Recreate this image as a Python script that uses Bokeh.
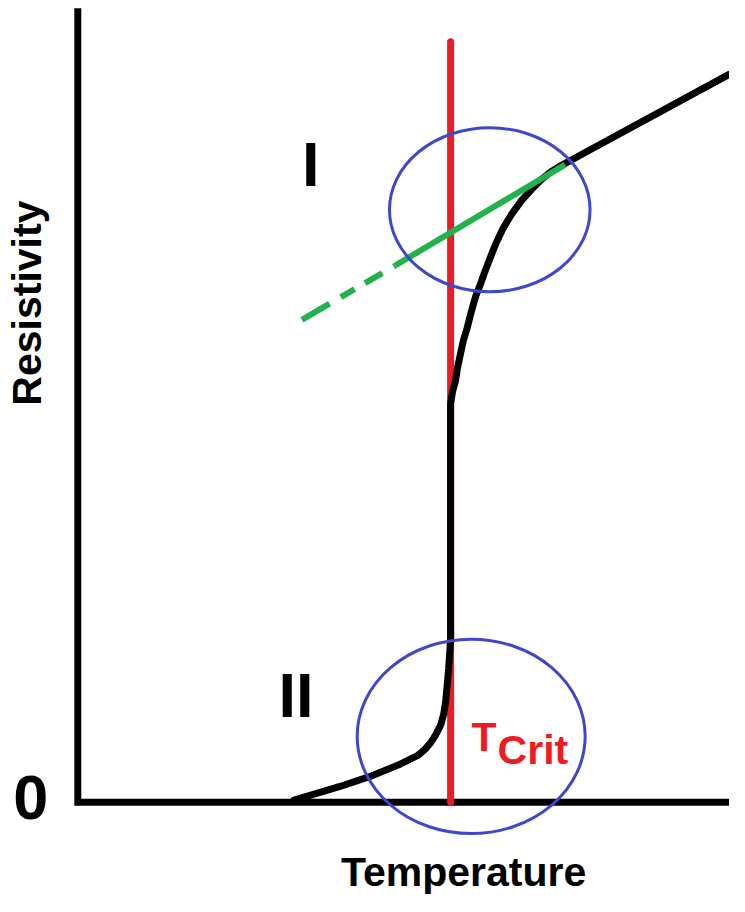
import numpy as np
from bokeh.plotting import figure
from bokeh.models import Range1d, ColumnDataSource
from bokeh.core.properties import value
from bokeh.embed import file_html
from bokeh.resources import INLINE

temperature = [221, 268, 298, 328, 348, 355, 361, 366, 371, 374, 376, 379, 381,
               381, 383, 386, 388, 391, 394, 398, 401, 404, 407, 411, 416, 421,
               427, 434, 443, 454, 464, 474, 484, 494, 518, 666]
resistivity = [2, 16, 26, 38, 48, 54, 61, 69, 79, 90, 103, 136, 166,
               406, 418, 429, 442, 456, 470, 483, 495, 506, 516, 526, 540, 553,
               568, 583, 598, 613, 624, 634, 642, 648, 661, 741]
t_crit = 381
t_crit_top = 774
extrap_T = [229, 324]
extrap_R = [491, 546]
fit_T = [324, 498]
fit_R = [546, 649]
region_T = [421, 402]
region_R = [603, 67]
region_w = [205, 233]
region_h = [167, 198]
region_names = ["I", "II"]
region_label_T = [238, 223]
region_label_R = [626, 86]

axis_T_max = 680
axis_R_max = 808

FONT = value("Liberation Sans")
BLACK = "#000000"
RED = "#ED1C24"
GREEN = "#22B14C"
BLUE = "#3F48CC"

p = figure(width=729, height=896, output_backend="svg", toolbar_location=None,
           x_range=Range1d(-79, 666), y_range=Range1d(-96, 816),
           min_border=0)
p.axis.visible = False
p.grid.visible = False
p.outline_line_color = None
p.background_fill_color = "white"
p.border_fill_color = "white"

# axes as an L-shaped line
p.line(x=[0, 0, axis_T_max], y=[axis_R_max, 0, 0], line_color=BLACK,
       line_width=7, line_join="miter", line_cap="butt")

# critical temperature
p.line(x=[t_crit, t_crit], y=[0, t_crit_top], line_color=RED, line_width=7,
       line_cap="round")

# resistivity curve
p.line(x=temperature, y=resistivity, line_color=BLACK, line_width=7,
       line_cap="round", line_join="round")

# linear fit and extrapolation
p.line(x=extrap_T, y=extrap_R, line_color=GREEN, line_width=6,
       line_dash="32 13 16 12 20 13", line_cap="butt")
p.line(x=fit_T, y=fit_R, line_color=GREEN, line_width=6, line_cap="butt")

# regions
p.ellipse(x=region_T, y=region_R, width=region_w, height=region_h,
          fill_color=None, line_color=BLUE, line_width=3)

src = ColumnDataSource(dict(x=region_label_T, y=region_label_R, t=region_names))
p.text(x="x", y="y", text="t", source=src, text_font=FONT, y_offset=-23,
       text_font_style="bold", text_font_size="63px", text_align="center",
       text_baseline="alphabetic", text_color=BLACK)

# T_crit label
p.text(x=[t_crit], y=[0], text=["T"], x_offset=21, y_offset=-65,
       text_font=FONT, text_font_style="bold", text_font_size="41px",
       text_align="left", text_baseline="alphabetic", text_color=RED)
p.text(x=[t_crit], y=[0], text=["Crit"], x_offset=47, y_offset=-52,
       text_font=FONT, text_font_style="bold", text_font_size="41px",
       text_align="left", text_baseline="alphabetic", text_color=RED)

# axis texts
p.text(x=[0], y=[0], text=["0"], x_offset=-47, y_offset=-5,
       text_font=FONT, text_font_style="bold", text_font_size="63px",
       text_align="center", text_baseline="alphabetic", text_color=BLACK)
p.text(x=[t_crit], y=[0], text=["Temperature"], x_offset=13, y_offset=70,
       text_font=FONT, text_font_style="bold", text_font_size="41px",
       text_align="center", text_baseline="alphabetic", text_color=BLACK)
p.text(x=[0], y=[t_crit + 127], text=["Resistivity"], x_offset=-51,
       angle=np.pi / 2, text_font=FONT, text_font_style="bold",
       text_font_size="41px", text_align="center",
       text_baseline="alphabetic", text_color=BLACK)

open("out.html", "w").write(file_html(p, INLINE))
